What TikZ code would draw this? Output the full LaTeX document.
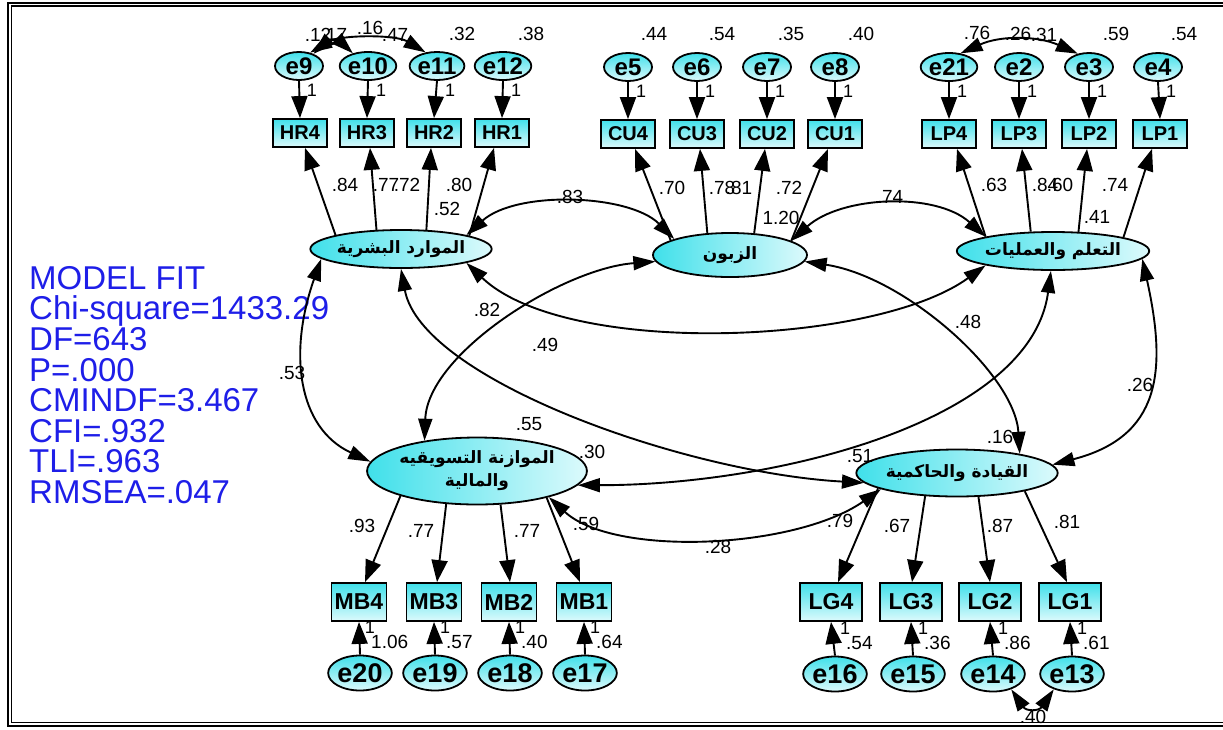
\documentclass[tikz,border=0pt]{standalone}
\usepackage{fontspec}
\setmainfont{Liberation Sans}
\newfontfamily\arabicfont[Script=Arabic]{DejaVu Sans}
\TeXXeTstate=1
\usetikzlibrary{arrows.meta,shapes.geometric,calc}
\definecolor{fillA}{RGB}{64,224,234}
\definecolor{fillB}{RGB}{220,250,252}
\definecolor{fitblue}{RGB}{30,30,232}
\tikzset{
  latent/.style={ellipse, draw=black, line width=1.8pt, left color=fillA, right color=fillB,
    inner sep=0pt, align=center, font=\arabicfont\bfseries\fontsize{17}{23}\selectfont},
  obs/.style={rectangle, draw=black, line width=1.8pt, top color=fillA, bottom color=fillB,
    inner sep=0pt, minimum width=54pt, minimum height=28pt, font=\bfseries\fontsize{20}{20}\selectfont},
  obsb/.style={obs, minimum height=38pt, font=\bfseries\fontsize{23}{23}\selectfont},
  err/.style={ellipse, draw=black, line width=1.8pt, top color=fillA, bottom color=fillB,
    inner sep=0pt, minimum width=48pt, minimum height=28pt, font=\bfseries\fontsize{24}{24}\selectfont},
  errb/.style={err, minimum width=50pt, minimum height=35pt, font=\bfseries\fontsize{27}{27}\selectfont},
  num/.style={inner sep=0pt, font=\fontsize{19}{19}\selectfont},
  vnum/.style={inner sep=0pt, font=\fontsize{19}{19}\selectfont},
  one/.style={inner sep=0pt, font=\fontsize{18}{18}\selectfont},
  pth/.style={line width=1.9pt, -{Triangle[length=22pt,width=16pt]}},
  cov/.style={line width=1.9pt, {Triangle[length=22pt,width=14pt]}-{Triangle[length=22pt,width=14pt]}},
}
\begin{document}
\begin{tikzpicture}[x=1pt,y=1pt]
\path[use as bounding box] (0,0) rectangle (1223,-729);
% double frame
\draw[line width=1.2pt] (8,-3) rectangle (1240,-726);
\draw[line width=1.8pt] (11.5,-6) rectangle (1236,-722.5);

% model fit summary
\node[anchor=north west, inner sep=0pt, align=left, text=fitblue,
  font=\fontsize{33}{30.6}\selectfont] (fit) at (29,-266)
  {MODEL FIT\\Chi-square=1433.29\\DF=643\\P=.000\\CMINDF=3.467\\CFI=.932\\TLI=.963\\RMSEA=.047};

% latent factors
\node[latent, minimum width=152pt, minimum height=38pt] (HR) at (401,-249) {\beginR الموارد البشرية\endR};
\node[latent, minimum width=154pt, minimum height=44pt] (CU) at (730,-255) {\beginR الزبون\endR};
\node[latent, minimum width=153pt, minimum height=38pt] (LP) at (1053,-251) {\beginR التعلم والعمليات\endR};
\node[latent, minimum width=191pt, minimum height=67pt] (MB) at (477,-471) {\beginR الموازنة التسويقيه\endR\\\beginR والمالية\endR};
\node[latent, minimum width=153pt, minimum height=47pt] (LG) at (957,-473) {\beginR القيادة والحاكمية\endR};

% indicators, top row
\node[obs] (hr4) at (300,-133) {HR4};
\node[obs] (hr3) at (367,-133) {HR3};
\node[obs] (hr2) at (434,-133) {HR2};
\node[obs] (hr1) at (502,-133) {HR1};
\node[obs] (cu4) at (628,-134) {CU4};
\node[obs] (cu3) at (697,-134) {CU3};
\node[obs] (cu2) at (767,-134) {CU2};
\node[obs] (cu1) at (835,-134) {CU1};
\node[obs] (lp4) at (949,-134) {LP4};
\node[obs] (lp3) at (1019,-134) {LP3};
\node[obs] (lp2) at (1089,-134) {LP2};
\node[obs] (lp1) at (1160,-134) {LP1};
% indicators, bottom row
\node[obsb, minimum width=55pt] (mb4) at (359,-602) {MB4};
\node[obsb, minimum width=55pt] (mb3) at (434,-602) {MB3};
\node[obsb, minimum width=55pt] (mb2) at (509,-602) {MB2};
\node[obsb, minimum width=55pt] (mb1) at (584,-602) {MB1};
\node[obsb, minimum width=62pt] (lg4) at (831,-602) {LG4};
\node[obsb, minimum width=62pt] (lg3) at (911,-602) {LG3};
\node[obsb, minimum width=62pt] (lg2) at (990,-602) {LG2};
\node[obsb, minimum width=62pt] (lg1) at (1070,-602) {LG1};

% error terms
\node[err] (e9) at (299,-66) {e9};
\node[err] (e10) at (368,-66) {e10};
\node[err] (e11) at (437,-66) {e11};
\node[err] (e12) at (503,-66) {e12};
\node[err] (e5) at (628,-67) {e5};
\node[err] (e6) at (697,-67) {e6};
\node[err] (e7) at (767,-67) {e7};
\node[err] (e8) at (835,-67) {e8};
\node[err] (e21) at (949,-67) {e21};
\node[err] (e2) at (1019,-67) {e2};
\node[err] (e3) at (1089,-67) {e3};
\node[err] (e4) at (1158,-67) {e4};
\node[errb] (e20) at (360,-673) {e20};
\node[errb] (e19) at (435,-673) {e19};
\node[errb] (e18) at (510,-673) {e18};
\node[errb] (e17) at (585,-673) {e17};
\node[errb] (e16) at (835,-674) {e16};
\node[errb] (e15) at (913,-674) {e15};
\node[errb] (e14) at (993,-674) {e14};
\node[errb] (e13) at (1072,-674) {e13};

% variances and covariances of the top error terms
\node[vnum] (v9a) at (318,-35) {.12};
\node[vnum] (v9b) at (334,-35) {.17};
\node[vnum] (c911) at (370,-28) {.16};
\node[vnum] (v10) at (395,-35) {.47};
\node[vnum] (v11) at (462,-34) {.32};
\node[vnum] (v12) at (531,-34) {.38};
\node[vnum] (v5) at (654,-34) {.44};
\node[vnum] (v6) at (722,-34) {.54};
\node[vnum] (v7) at (791,-34) {.35};
\node[vnum] (v8) at (861,-34) {.40};
\node[vnum] (v21) at (977,-33) {.76};
\node[vnum] (c213) at (1018,-34) {.26};
\node[vnum] (v2) at (1044,-35) {.31};
\node[vnum] (v3) at (1116,-34) {.59};
\node[vnum] (v4) at (1184,-34) {.54};

% fixed unit loadings, top
\foreach \e in {e9,e10,e11,e12,e5,e6,e7,e8,e21,e2,e3,e4}
  \node[one] (w\e) at ($(\e)+(13,-24)$) {1};
% fixed unit loadings and variances, bottom
\foreach \e/\v in {e20/1.06,e19/.57,e18/.40,e17/.64,e16/.54,e15/.36,e14/.86,e13/.61}{
  \node[one] (w\e) at ($(\e)+(10,46)$) {1};
  \node[vnum, anchor=west] (v\e) at ($(\e)+(11,31)$) {\v};
}

% factor loadings
\node[num] (l1) at (345,-185) {.84};
\node[num] (l2) at (386,-185) {.77};
\node[num] (l3) at (407,-185) {.72};
\node[num] (l4) at (459,-185) {.80};
\node[num] (l5) at (447,-209) {.52};
\node[num] (l6) at (672,-188) {.70};
\node[num] (l7) at (722,-188) {.78};
\node[num] (l8) at (739,-188) {.81};
\node[num] (l9) at (789,-188) {.72};
\node[num] (l10) at (781,-218) {1.20};
\node[num] (l11) at (994,-185) {.63};
\node[num] (l12) at (1045,-185) {.84};
\node[num] (l13) at (1060,-185) {.60};
\node[num] (l14) at (1115,-185) {.74};
\node[num] (l15) at (1097,-217) {.41};
\node[num] (l16) at (362,-526) {.93};
\node[num] (l17) at (421,-531) {.77};
\node[num] (l18) at (527,-531) {.77};
\node[num] (l19) at (586,-524) {.59};
\node[num] (l20) at (840,-521) {.79};
\node[num] (l21) at (897,-526) {.67};
\node[num] (l22) at (1000,-526) {.87};
\node[num] (l23) at (1067,-522) {.81};

% factor correlations
\node[num] (r1) at (570,-197) {.83};
\node[num] (r2) at (890,-197) {.74};
\node[num] (r3) at (487,-310) {.82};
\node[num] (r4) at (545,-345) {.49};
\node[num] (r5) at (968,-322) {.48};
\node[num] (r6) at (292,-373) {.53};
\node[num] (r7) at (1140,-385) {.26};
\node[num] (r8) at (529,-424) {.55};
\node[num] (r9) at (592,-452) {.30};
\node[num] (r10) at (1000,-437) {.16};
\node[num] (r11) at (860,-456) {.51};
\node[num] (r12) at (718,-547) {.28};
\node[vnum] (c1314) at (1033,-717) {.40};

% error -> indicator paths
\foreach \e/\b in {e9/hr4,e10/hr3,e11/hr2,e12/hr1,e5/cu4,e6/cu3,e7/cu2,e8/cu1,e21/lp4,e2/lp3,e3/lp2,e4/lp1}
  \draw[pth] (\e.south) -- (\b.north);
\foreach \e/\b in {e20/mb4,e19/mb3,e18/mb2,e17/mb1,e16/lg4,e15/lg3,e14/lg2,e13/lg1}
  \draw[pth] (\e.north) -- (\b.south);

% factor -> indicator paths
\draw[pth] (HR.168) -- ([xshift=5pt]hr4.south);
\draw[pth] (HR.142) -- ([xshift=3pt]hr3.south);
\draw[pth] (HR.37) -- ([xshift=-3pt]hr2.south);
\draw[pth] (HR.11.5) -- ([xshift=-8pt]hr1.south);
\draw[pth] (CU.166) -- ([xshift=7pt]cu4.south);
\draw[pth] (CU.136) -- ([xshift=3pt]cu3.south);
\draw[pth] (CU.42) -- ([xshift=-2pt]cu2.south);
\draw[pth] (CU.13) -- ([xshift=-7pt]cu1.south);
\draw[pth] (LP.168) -- ([xshift=8pt]lp4.south);
\draw[pth] (LP.139) -- ([xshift=3pt]lp3.south);
\draw[pth] (LP.37) -- ([xshift=-2pt]lp2.south);
\draw[pth] (LP.11.5) -- ([xshift=-8pt]lp1.south);
\draw[pth] (MB.198.6) -- ([xshift=6pt]mb4.north);
\draw[pth] (MB.227.7) -- ([xshift=3pt]mb3.north);
\draw[pth] (MB.305.3) -- ([xshift=1pt]mb2.north);
\draw[pth] (MB.339.3) -- ([xshift=-4pt]mb1.north);
\draw[pth] (LG.191.4) -- ([xshift=7pt]lg4.north);
\draw[pth] (LG.216.8) -- ([xshift=1pt]lg3.north);
\draw[pth] (LG.312.9) -- (lg2.north);
\draw[pth] (LG.345.2) -- ([xshift=-3pt]lg1.north);

% error covariances
\draw[cov] (e9.40) .. controls +(15,14) and +(-15,14) .. (e10.140);
\draw[cov] (e9.50) .. controls +(30,18) and +(-30,18) .. (e11.130);
\draw[cov] (e21.50) .. controls +(40,18) and +(-40,18) .. (e3.130);
\draw[cov] (e14.-40) .. controls +(15,-22) and +(-15,-22) .. (e13.-140);

% factor covariances
\draw[cov] (HR.12) .. controls +(50,45) and +(-45,45) .. (CU.164);
\draw[cov] (CU.13.6) .. controls +(50,45) and +(-50,45) .. (LP.168);
\draw[cov] (HR.348) .. controls +(100,-95) and +(-110,-80) .. (LP.192);
\draw[cov] (HR.187) .. controls +(-33,-93) and +(-73,34) .. (MB.175.7);
\draw[cov] (HR.270) .. controls +(20,-110) and +(-180,10) .. (LG.186);
\draw[cov] (CU.185) .. controls +(-93,-7) and +(3,87) .. (MB.150.3);
\draw[cov] (CU.355) .. controls +(100,-15) and +(-5,80) .. (LG.17);
\draw[cov] (LP.355) .. controls +(25,-113) and +(108,28) .. (LG.5);
\draw[cov] (MB.352) .. controls +(200,0) and +(-20,-150) .. (LP.264);
\draw[cov] (MB.340) .. controls +(65,-60) and +(-86,-60) .. (LG.192);
\end{tikzpicture}
\end{document}
